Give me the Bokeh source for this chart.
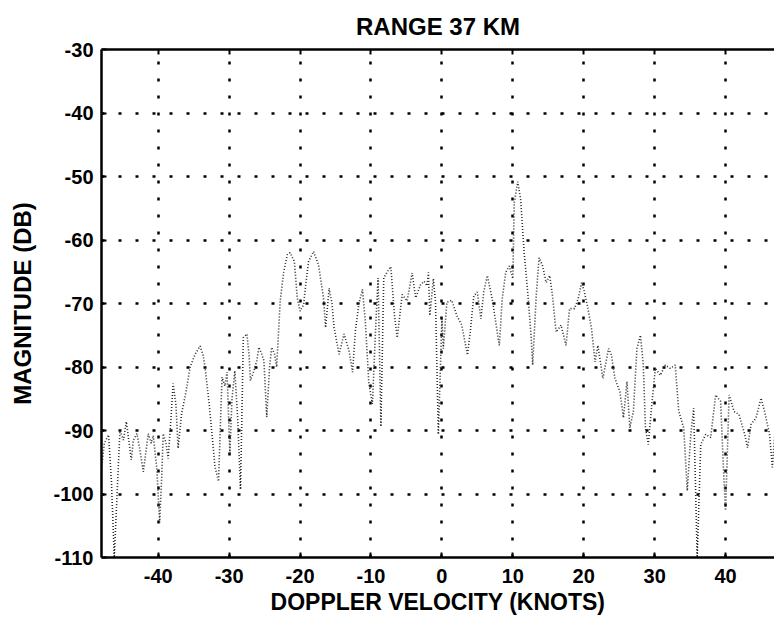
from bokeh.plotting import figure
from bokeh.models import Range1d, LinearAxis, FixedTicker
from bokeh.embed import file_html
from bokeh.resources import INLINE

# Doppler velocity (knots) and magnitude (dB)
velocity = [
    -48.0, -47.6, -47.0, -46.6, -46.2, -45.8, -45.4, -44.9, -44.5, -44.1,
    -43.8, -43.5, -43.0, -42.6, -42.1, -41.7, -41.4, -41.0, -40.7, -40.2,
    -39.8, -39.5, -39.3, -38.9, -38.6, -38.2, -37.9, -37.5, -37.2, -36.7,
    -36.1, -35.5, -34.8, -34.1, -33.7, -33.4, -32.8, -32.3, -32.0, -31.5,
    -31.2, -31.0, -30.6, -30.3, -29.9, -29.6, -29.2, -28.8, -28.4, -28.0,
    -27.5, -27.2, -27.0, -26.5, -26.1, -25.8, -25.4, -25.1, -24.7, -24.3,
    -24.0, -23.6, -23.3, -22.8, -22.3, -21.8, -21.4, -20.8, -20.4, -20.0,
    -19.5, -19.2, -18.8, -18.1, -17.4, -16.7, -16.4, -15.9, -15.5, -15.2,
    -14.5, -13.8, -13.1, -12.6, -12.2, -11.7, -11.2, -10.8, -10.3, -9.8,
    -9.3, -9.0, -8.6, -8.2, -7.7, -7.2, -6.7, -6.3, -5.6, -4.9,
    -4.2, -3.7, -3.0, -2.5, -2.1, -1.9, -1.7, -1.2, -0.9, -0.5,
    0.0, 0.2, 0.7, 1.4, 2.1, 2.8, 3.6, 4.0, 4.5, 5.0,
    5.5, 5.9, 6.4, 7.1, 7.8, 8.1, 8.5, 9.0, 9.5, 10.0,
    10.2, 10.7, 11.1, 11.6, 12.1, 12.6, 12.8, 13.3, 13.7, 14.2,
    14.7, 15.2, 15.6, 16.1, 16.8, 17.5, 18.0, 18.7, 19.2, 19.7,
    20.1, 20.6, 21.1, 21.6, 22.0, 22.7, 23.5, 23.9, 24.4, 25.1,
    25.6, 26.1, 26.5, 27.0, 27.5, 28.0, 28.4, 28.7, 29.1, 29.6,
    30.1, 30.8, 31.5, 32.2, 32.9, 33.4, 34.1, 34.6, 35.1, 35.5,
    36.0, 36.5, 37.2, 37.9, 38.6, 39.3, 39.8, 40.0, 40.5, 41.2,
    41.9, 42.7, 43.1, 43.6, 44.3, 45.0, 45.5, 46.2, 46.6, 47.0,
]
magnitude = [
    -96.0, -92.0, -90.7, -98.0, -110.0, -100.0, -90.0, -91.5, -88.6, -92.0,
    -94.6, -91.5, -90.5, -93.0, -96.5, -93.0, -90.5, -92.0, -90.8, -96.0,
    -104.5, -97.0, -90.5, -92.0, -94.4, -88.0, -82.6, -86.0, -92.8, -87.3,
    -84.0, -80.0, -78.0, -76.7, -78.0, -80.0, -86.0, -92.0, -95.7, -98.0,
    -88.0, -81.6, -83.0, -80.8, -93.6, -85.0, -80.6, -88.0, -99.3, -75.4,
    -74.8, -78.0, -82.1, -80.6, -79.0, -76.9, -78.0, -79.0, -87.9, -80.0,
    -76.9, -78.0, -80.0, -69.6, -65.0, -62.3, -62.0, -63.4, -69.1, -71.2,
    -70.2, -67.0, -63.4, -61.8, -63.9, -69.1, -73.8, -67.6, -70.0, -73.8,
    -78.0, -74.8, -77.4, -80.8, -74.3, -70.0, -67.8, -72.8, -82.6, -85.8,
    -72.8, -66.0, -89.4, -66.0, -65.0, -64.2, -71.7, -75.4, -68.6, -69.6,
    -65.2, -69.1, -67.0, -66.5, -67.2, -65.1, -71.9, -66.1, -69.8, -90.6,
    -72.4, -77.1, -69.8, -69.5, -71.9, -73.4, -78.1, -74.5, -68.8, -68.2,
    -72.4, -68.2, -65.6, -69.3, -74.5, -76.6, -69.3, -65.1, -64.1, -66.1,
    -54.2, -50.8, -53.6, -62.0, -68.2, -75.5, -79.7, -68.8, -62.8, -64.1,
    -66.7, -65.6, -68.8, -74.5, -73.4, -76.6, -70.8, -70.8, -69.3, -66.7,
    -68.2, -70.8, -74.0, -79.2, -76.6, -81.8, -77.1, -78.1, -81.8, -83.9,
    -88.0, -82.3, -89.6, -87.0, -77.1, -75.0, -79.7, -89.6, -92.2, -85.9,
    -80.2, -81.3, -79.7, -80.2, -79.7, -87.0, -89.6, -99.5, -90.6, -86.5,
    -110.0, -92.2, -90.6, -91.1, -84.4, -85.4, -98.4, -102.6, -84.4, -87.0,
    -87.5, -90.6, -92.7, -89.0, -88.0, -84.9, -87.0, -90.6, -95.8, -89.6,
]
x_ticks = [-40, -30, -20, -10, 0, 10, 20, 30, 40]
y_ticks = [-110, -100, -90, -80, -70, -60, -50, -40, -30]

FONT = "Liberation Sans"

p = figure(
    width=774, height=622, output_backend="svg", toolbar_location=None,
    x_range=Range1d(-48, 46.9), y_range=Range1d(-110, -30),
    min_border_left=101, min_border_right=0, min_border_top=49, min_border_bottom=65,
    x_axis_label="DOPPLER VELOCITY (KNOTS)", y_axis_label="MAGNITUDE (DB)",
)
p.background_fill_color = "white"
p.border_fill_color = "white"
p.outline_line_color = None

p.title.text = "RANGE 37 KM"
p.title.align = "center"
p.title.text_font = FONT
p.title.text_font_style = "bold"
p.title.text_font_size = "24px"
p.title.text_color = "black"
p.title.standoff = 20

for ax, ticks in ((p.xaxis[0], x_ticks), (p.yaxis[0], y_ticks)):
    ax.ticker = FixedTicker(ticks=ticks)
    ax.major_label_overrides = {t: str(t) for t in ticks}
    ax.axis_line_width = 2.5
    ax.axis_line_color = "black"
    ax.major_tick_in = 5
    ax.major_tick_out = 0
    ax.major_tick_line_width = 2
    ax.minor_tick_line_color = None
    ax.major_label_text_font = FONT
    ax.major_label_text_font_style = "bold"
    ax.major_label_text_font_size = "20px"
    ax.major_label_text_color = "black"
    ax.axis_label_text_font = FONT
    ax.axis_label_text_font_style = "bold"
    ax.axis_label_text_color = "black"

p.xaxis[0].axis_label_text_font_size = "23px"
p.yaxis[0].axis_label_text_font_size = "24px"
p.xaxis[0].major_label_standoff = 11
p.xaxis[0].axis_label_standoff = 3
p.yaxis[0].major_label_standoff = 8
p.yaxis[0].axis_label_standoff = 14

top = LinearAxis(
    ticker=FixedTicker(ticks=x_ticks),
    major_label_overrides={t: "" for t in x_ticks},
    major_label_text_font_size="1px",
    major_label_standoff=0, major_tick_in=5, major_tick_out=0,
    major_tick_line_width=2, minor_tick_line_color=None,
    axis_line_width=2.5, axis_line_color="black",
)
p.add_layout(top, "above")

p.xgrid.ticker = FixedTicker(ticks=x_ticks)
p.ygrid.ticker = FixedTicker(ticks=y_ticks)
p.grid.grid_line_color = "black"
p.grid.grid_line_alpha = 1.0
p.grid.grid_line_width = 2.5
p.grid.grid_line_dash = "3 14"

p.line(velocity, magnitude, line_color="#2a2a2a", line_width=1.6, line_dash="1 2")

open("out.html", "w").write(file_html(p, INLINE))
